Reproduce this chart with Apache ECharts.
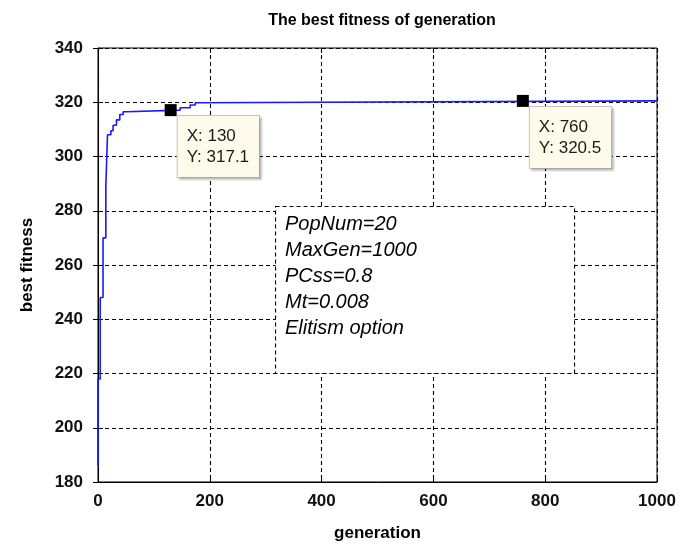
<!DOCTYPE html>
<html>
<head>
<meta charset="utf-8">
<script src="https://cdn.jsdelivr.net/npm/echarts@6/dist/echarts.min.js"></script>
<style>
html,body{margin:0;padding:0;background:#fff;}
#main{width:695px;height:547px;}
</style>
</head>
<body>
<div id="main"></div>
<script>
// generation at which each new best value appears (step curve)
const generations = [0, 0, 4, 9, 14, 17, 23, 27, 33, 39, 45, 51, 147, 165, 174, 182, 1000];
const bestFitness = [186, 218, 248, 270, 289, 308, 309.5, 311.5, 313.5, 315.5, 316.5, 317.1, 318, 319, 319.8, 320.5, 320.5];
// data cursors
const cursorX = [130, 760];
const cursorY = [317.1, 320.5];
const xTicks = [0, 200, 400, 600, 800, 1000];
const yTicks = [180, 200, 220, 240, 260, 280, 300, 320, 340];
const infoLines = ['PopNum=20', 'MaxGen=1000', 'PCss=0.8', 'Mt=0.008', 'Elitism option'];

const FONT = 'Arial, "Liberation Sans", sans-serif';
const chart = echarts.init(document.getElementById('main'), null, {renderer: 'canvas'});

const gridDash = {color: '#000', width: 1.1, type: [4, 3]};
const tickStyle = {show: true, inside: true, length: 5, lineStyle: {color: '#000', width: 1}};

chart.setOption({
  animation: false,
  backgroundColor: '#fff',
  title: {
    text: 'The best fitness of generation',
    left: 377, top: 8, textAlign: 'center',
    textStyle: {fontFamily: FONT, fontSize: 16, fontWeight: 'bold', color: '#000'}
  },
  grid: {left: 98, right: 38, top: 48, bottom: 64, show: true, borderColor: '#000', borderWidth: 1, backgroundColor: '#fff'},
  xAxis: [{
    type: 'value', min: xTicks[0], max: xTicks[xTicks.length - 1], interval: 200,
    name: 'generation', nameLocation: 'middle', nameGap: 43,
    nameTextStyle: {fontFamily: FONT, fontSize: 17, fontWeight: 'bold', color: '#000'},
    axisLine: {show: true, lineStyle: {color: '#000', width: 1}},
    axisTick: tickStyle,
    axisLabel: {fontFamily: FONT, fontSize: 17, fontWeight: 'bold', color: '#111', margin: 11, formatter: v => String(v)},
    splitLine: {show: true, lineStyle: gridDash}
  }, {
    type: 'value', position: 'top', min: 0, max: 1000, interval: 200,
    axisLine: {show: false}, axisTick: tickStyle, axisLabel: {show: false}, splitLine: {show: false}
  }],
  yAxis: [{
    type: 'value', min: yTicks[0], max: yTicks[yTicks.length - 1], interval: 20,
    name: 'best fitness', nameLocation: 'middle', nameGap: 62, nameRotate: 90,
    nameTextStyle: {fontFamily: FONT, fontSize: 17, fontWeight: 'bold', color: '#000'},
    axisLine: {show: true, lineStyle: {color: '#000', width: 1}},
    axisTick: tickStyle,
    axisLabel: {fontFamily: FONT, fontSize: 17, fontWeight: 'bold', color: '#111', margin: 15},
    splitLine: {show: true, lineStyle: gridDash}
  }, {
    type: 'value', position: 'right', min: 180, max: 340, interval: 20,
    axisLine: {show: false}, axisTick: tickStyle, axisLabel: {show: false}, splitLine: {show: false}
  }],
  series: [{
    type: 'line',
    step: 'end',
    showSymbol: false,
    data: generations.map((g, i) => [g, bestFitness[i]]),
    lineStyle: {color: '#1a1aff', width: 1.6},
    z: 3
  }, {
    type: 'scatter',
    symbol: 'rect',
    symbolSize: 12,
    itemStyle: {color: '#000', opacity: 1},
    data: cursorX.map((x, i) => [x, cursorY[i]]),
    label: {
      show: true,
      position: [13, 12],
      formatter: p => 'X: ' + p.value[0] + '\nY: ' + p.value[1],
      fontFamily: FONT, fontSize: 17, lineHeight: 21, color: '#1a1a1a',
      backgroundColor: '#fffbea',
      borderColor: '#c4c4c4', borderWidth: 1,
      padding: [10, 10, 9, 9],
      shadowColor: 'rgba(0,0,0,0.18)', shadowBlur: 2, shadowOffsetX: 2, shadowOffsetY: 2
    },
    z: 5
  }],
  graphic: [{
    type: 'rect', left: 275, top: 206, z: 100,
    shape: {x: 0, y: 0, width: 299, height: 167},
    style: {fill: '#ffffff', stroke: '#000', lineWidth: 1.1, lineDash: [4, 3]}
  }, {
    type: 'text', left: 285, top: 211, z: 101,
    style: {
      text: infoLines.join('\n'),
      font: 'italic 20px ' + FONT, lineHeight: 26, fill: '#000'
    }
  }]
});
</script>
</body>
</html>
